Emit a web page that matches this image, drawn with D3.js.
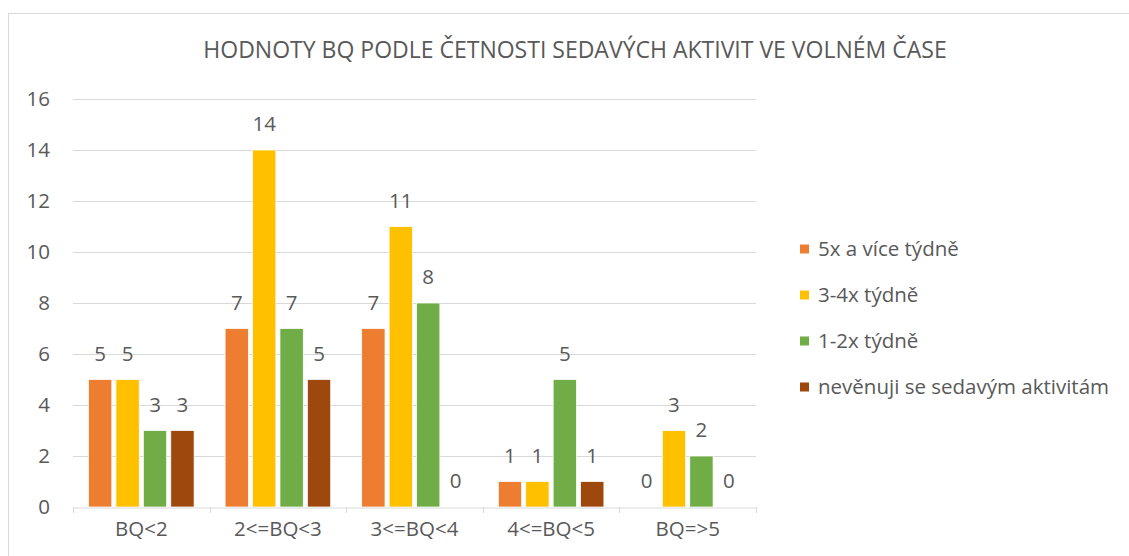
<!DOCTYPE html>
<html>
<head>
<meta charset="utf-8">
<script src="https://cdn.jsdelivr.net/npm/d3@7"></script>
<style>
  body { margin: 0; background: #fff; }
  text { font-family: "Open Sans", sans-serif; fill: #595959; }
</style>
</head>
<body>
<svg id="chart"></svg>
<script>
// data
const categories = ['BQ<2', '2<=BQ<3', '3<=BQ<4', '4<=BQ<5', 'BQ=>5'];
const seriesNames = ['5x a více týdně', '3-4x týdně', '1-2x týdně', 'nevěnuji se sedavým aktivitám'];
const fiveOrMore = [5, 7, 7, 1, 0];
const threeFour = [5, 14, 11, 1, 3];
const oneTwo = [3, 7, 8, 5, 2];
const none = [3, 5, 0, 1, 0];
const yTicks = [0, 2, 4, 6, 8, 10, 12, 14, 16];
const colors = ['#ED7D31', '#FFC000', '#70AD47', '#9E480E'];
const title = 'HODNOTY BQ PODLE ČETNOSTI SEDAVÝCH AKTIVIT VE VOLNÉM ČASE';

const allSeries = [fiveOrMore, threeFour, oneTwo, none];

const w = 1129, h = 556;
const pLeft = 73, pRight = 756, pTop = 99, pBottom = 507;
const fs = '20.5px';

const svg = d3.select('#chart').attr('width', w).attr('height', h);

// outer frame (right and bottom edges fall outside the picture)
svg.append('rect')
  .attr('x', 8.5).attr('y', 13.5)
  .attr('width', 1140).attr('height', 600)
  .attr('fill', 'none').attr('stroke', '#D9D9D9');

svg.append('text')
  .attr('x', 575).attr('y', 58)
  .attr('text-anchor', 'middle')
  .style('font-size', '23px')
  .text(title);

const x0 = d3.scaleBand().domain(categories).range([pLeft, pRight]);
const x1 = d3.scaleBand().domain(d3.range(4))
  .range([15.5, x0.bandwidth() - 15.5]).paddingInner(0.15);
const y = d3.scaleLinear().domain([0, 16]).range([pBottom, pTop]);

// gridlines
svg.append('g').selectAll('line')
  .data(yTicks.filter(d => d > 0))
  .enter().append('line')
  .attr('x1', pLeft).attr('x2', pRight)
  .attr('y1', d => y(d) + 0.5).attr('y2', d => y(d) + 0.5)
  .attr('stroke', '#D9D9D9').attr('stroke-width', 1);

// y axis labels
const yAxis = d3.axisLeft(y).tickValues(yTicks).tickSize(0).tickPadding(0);
const ya = svg.append('g').attr('transform', 'translate(50,0)').call(yAxis);
ya.select('.domain').remove();
ya.selectAll('text').style('font-size', fs).attr('fill', '#595959');

// bars
const groups = svg.append('g').selectAll('g')
  .data(categories)
  .enter().append('g')
  .attr('transform', d => `translate(${x0(d)},0)`);

groups.selectAll('rect')
  .data((c, ci) => allSeries.map((s, si) => ({ si, v: s[ci] })))
  .enter().append('rect')
  .attr('x', d => x1(d.si))
  .attr('width', x1.bandwidth())
  .attr('y', d => y(d.v))
  .attr('height', d => y(0) - y(d.v))
  .attr('fill', d => colors[d.si])
  .attr('stroke', '#fff').attr('stroke-width', 0.75);

groups.selectAll('text.lbl')
  .data((c, ci) => allSeries.map((s, si) => ({ si, v: s[ci] })))
  .enter().append('text')
  .attr('class', 'lbl')
  .attr('x', d => x1(d.si) + x1.bandwidth() / 2)
  .attr('y', d => y(d.v) - 19)
  .attr('text-anchor', 'middle')
  .style('font-size', fs)
  .text(d => d.v);

// x axis
const xAxis = d3.axisBottom(x0).tickSize(0).tickPadding(0);
const xa = svg.append('g').attr('transform', `translate(0,${pBottom + 0.5})`).call(xAxis);
xa.select('.domain').attr('stroke', '#D9D9D9');
xa.selectAll('text').style('font-size', fs).attr('fill', '#595959').attr('dy', '1.4em');
const bounds = categories.map(c => x0(c)).concat([pRight]);
svg.append('g').selectAll('line')
  .data(bounds).enter().append('line')
  .attr('x1', d => Math.round(d) + 0.5).attr('x2', d => Math.round(d) + 0.5)
  .attr('y1', pBottom).attr('y2', pBottom + 6)
  .attr('stroke', '#D9D9D9');

// legend
const leg = svg.append('g').selectAll('g')
  .data(seriesNames).enter().append('g')
  .attr('transform', (d, i) => `translate(800,${249 + i * 46})`);
leg.append('rect').attr('x', 0).attr('y', -4.5).attr('width', 9).attr('height', 9)
  .attr('fill', (d, i) => colors[i]);
leg.append('text').attr('x', 18).attr('dy', '0.35em')
  .style('font-size', fs).text(d => d);
</script>
</body>
</html>
